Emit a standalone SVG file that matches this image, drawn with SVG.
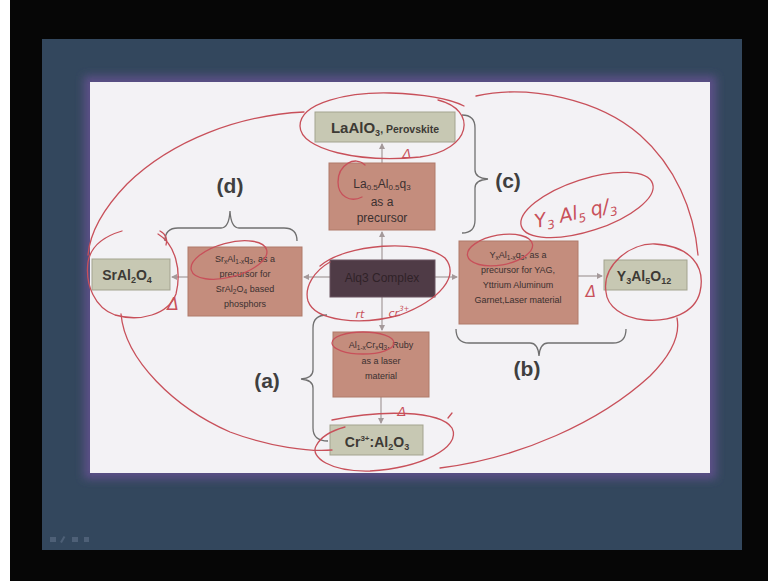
<svg xmlns="http://www.w3.org/2000/svg" width="768" height="581" viewBox="0 0 768 581">
<defs>
<style>
.box-k{fill:#c7c8b3;stroke:#a3a38f;stroke-width:1}
.box-r{fill:#c48d7d;stroke:#b07a6b;stroke-width:1}
.box-d{fill:#4f3b46;stroke:#6b5560;stroke-width:1}
.t{font-family:"Liberation Sans",Arial,sans-serif;fill:#3b3030;text-anchor:middle}
.tb{font-family:"Liberation Sans",Arial,sans-serif;font-weight:bold;fill:#3d3a35;text-anchor:middle}
.lbl{font-family:"Liberation Sans",Arial,sans-serif;font-weight:bold;font-size:21px;fill:#3f3f3f;text-anchor:middle}
.conn{stroke:#a4999a;stroke-width:1.2;fill:none;marker-end:url(#ah)}
.brace{stroke:#707070;stroke-width:1.3;fill:none}
.ink{stroke:#c8505a;stroke-width:1.3;fill:none;stroke-linecap:round;stroke-linejoin:round}
.inkt{font-family:"DejaVu Sans",sans-serif;font-style:italic;fill:#c8505a}
</style>
<marker id="ah" markerWidth="6" markerHeight="6" refX="5" refY="3" orient="auto" markerUnits="userSpaceOnUse"><path d="M0,0 L6,3 L0,6 z" fill="#a4999a"/></marker>
<filter id="glow" x="-10%" y="-10%" width="120%" height="120%"><feGaussianBlur stdDeviation="4"/></filter>
</defs>

<g id="background">
<rect x="0" y="0" width="768" height="581" fill="#060606"/>
<rect x="0" y="0" width="10" height="581" fill="#ffffff"/>
<rect x="42" y="39" width="700" height="511" fill="#33475d"/>
<rect x="84" y="76" width="632" height="403" fill="#5b4f87" filter="url(#glow)"/>
<rect x="90" y="82" width="620" height="391" fill="#f3f2f5"/>
<g fill="#8090a8" opacity="0.35">
<rect x="50" y="537" width="6" height="5"/>
<rect x="62" y="536" width="2" height="7" transform="rotate(30 63 539)"/>
<rect x="72" y="537" width="6" height="5"/>
<rect x="84" y="537" width="5" height="5"/>
</g>
</g>

<g id="connectors">
<line class="conn" x1="382" y1="260" x2="382" y2="232"/>
<line class="conn" x1="382" y1="163" x2="382" y2="144"/>
<line class="conn" x1="330" y1="277" x2="304" y2="277"/>
<line class="conn" x1="188" y1="277" x2="172" y2="277"/>
<line class="conn" x1="435" y1="277" x2="457" y2="277"/>
<line class="conn" x1="578" y1="276" x2="602" y2="276"/>
<line class="conn" x1="382" y1="297" x2="382" y2="330"/>
<line class="conn" x1="381" y1="397" x2="381" y2="423"/>
</g>

<g id="laalo3">
<rect class="box-k" x="315" y="112" width="140" height="30"/>
<text class="tb" x="385" y="133" font-size="15">LaAlO<tspan font-size="9" dy="3">3</tspan><tspan font-size="10.5" dy="-3">, Perovskite</tspan></text>
</g>

<g id="la-precursor">
<rect class="box-r" x="329" y="163" width="106" height="67"/>
<text class="t" x="382" y="188" font-size="12">La<tspan font-size="8" dy="2">0.5</tspan><tspan dy="-2">Al</tspan><tspan font-size="8" dy="2">0.5</tspan><tspan dy="-2">q</tspan><tspan font-size="8" dy="2">3</tspan></text>
<text class="t" x="382" y="206" font-size="12">as a</text>
<text class="t" x="382" y="222" font-size="12">precursor</text>
</g>

<g id="alq3">
<rect class="box-d" x="330" y="260" width="105" height="37"/>
<text class="t" x="382" y="282" font-size="12" fill="#2f2228" style="fill:#2f2228">Alq3 Complex</text>
</g>

<g id="sr-precursor">
<rect class="box-r" x="188" y="247" width="114" height="69"/>
<text class="t" x="245" y="262" font-size="9">Sr<tspan font-size="6.5" dy="2">x</tspan><tspan dy="-2">Al</tspan><tspan font-size="6.5" dy="2">1-x</tspan><tspan dy="-2">q</tspan><tspan font-size="6.5" dy="2">3</tspan><tspan dy="-2">, as a</tspan></text>
<text class="t" x="245" y="277" font-size="9">precursor for</text>
<text class="t" x="245" y="292" font-size="9">SrAl<tspan font-size="6.5" dy="2">2</tspan><tspan dy="-2">O</tspan><tspan font-size="6.5" dy="2">4</tspan><tspan dy="-2"> based</tspan></text>
<text class="t" x="245" y="307" font-size="9">phosphors</text>
</g>

<g id="sral2o4">
<rect class="box-k" x="92" y="259" width="78" height="31"/>
<text class="tb" x="127" y="280" font-size="14">SrAl<tspan font-size="9" dy="3">2</tspan><tspan dy="-3">O</tspan><tspan font-size="9" dy="3">4</tspan></text>
</g>

<g id="y-precursor">
<rect class="box-r" x="459" y="241" width="119" height="83"/>
<text class="t" x="518" y="258" font-size="9">Y<tspan font-size="6.5" dy="2">x</tspan><tspan dy="-2">Al</tspan><tspan font-size="6.5" dy="2">1-x</tspan><tspan dy="-2">q</tspan><tspan font-size="6.5" dy="2">3</tspan><tspan dy="-2">, as a</tspan></text>
<text class="t" x="518" y="273" font-size="9">precursor for YAG,</text>
<text class="t" x="518" y="288" font-size="9">Yttrium Aluminum</text>
<text class="t" x="518" y="303" font-size="9">Garnet,Laser material</text>
</g>

<g id="yag">
<rect class="box-k" x="604" y="260" width="83" height="30"/>
<text class="tb" x="644" y="281" font-size="14">Y<tspan font-size="9" dy="3">3</tspan><tspan dy="-3">Al</tspan><tspan font-size="9" dy="3">5</tspan><tspan dy="-3">O</tspan><tspan font-size="9" dy="3">12</tspan></text>
</g>

<g id="al-precursor">
<rect class="box-r" x="333" y="332" width="96" height="65"/>
<text class="t" x="381" y="348" font-size="9">Al<tspan font-size="6.5" dy="2">1-x</tspan><tspan dy="-2">Cr</tspan><tspan font-size="6.5" dy="2">x</tspan><tspan dy="-2">q</tspan><tspan font-size="6.5" dy="2">3</tspan><tspan dy="-2">, Ruby</tspan></text>
<text class="t" x="381" y="364" font-size="9">as a laser</text>
<text class="t" x="381" y="379" font-size="9">material</text>
</g>

<g id="ruby">
<rect class="box-k" x="330" y="425" width="93" height="30"/>
<text class="tb" x="377" y="447" font-size="14">Cr<tspan font-size="8" dy="-6">3+</tspan><tspan dy="6">:Al</tspan><tspan font-size="9" dy="3">2</tspan><tspan dy="-3">O</tspan><tspan font-size="9" dy="3">3</tspan></text>
</g>

<g id="braces">
<path class="brace" d="M462,115 Q475,115 475,128 L475,170 Q475,178 488,179 Q475,180 475,188 L475,220 Q475,233 462,233"/>
<text class="lbl" x="508" y="188">(c)</text>
<path class="brace" d="M165,241 Q165,228 178,228 L221,228 Q229,228 230,211 Q231,228 239,228 L284,228 Q297,228 297,241"/>
<text class="lbl" x="230" y="193">(d)</text>
<path class="brace" d="M327,315 Q313,315 313,328 L313,370 Q313,378 301,379 Q313,380 313,388 L313,428 Q313,441 328,441"/>
<text class="lbl" x="267" y="388">(a)</text>
<path class="brace" d="M456,329 Q456,343 469,343 L530,343 Q538,343 539,356 Q540,343 548,343 L613,343 Q626,343 626,329"/>
<text class="lbl" x="527" y="376">(b)</text>
</g>

<g id="ink">
<path class="ink" d="M438,100 C478,110 472,150 420,157 C360,163 300,150 300,126 C300,102 350,92 390,93 C420,94 448,98 464,106"/>
<path class="ink" d="M476,96 C530,84 600,100 640,135 C675,166 694,210 698,255"/>
<path class="ink" d="M304,112 C240,115 172,140 127,184 C102,210 90,232 88,255"/>
<path class="ink" d="M158,234 C175,244 182,270 176,294 C168,315 140,322 115,315 C95,308 85,285 88,262 C91,245 105,236 122,231"/>
<path class="ink" d="M160,231 C166,234 168,240 166,245"/>
<path class="ink" d="M121,314 C125,360 175,408 230,432 C270,447 310,452 332,450"/>
<path class="ink" d="M332,420 C380,410 440,410 452,428 C462,448 420,468 370,471 C330,472 310,457 316,446 C320,438 330,431 345,427"/>
<path class="ink" d="M448,418 L452,413"/>
<path class="ink" d="M440,468 C520,458 600,422 650,376 C674,352 680,333 677,318"/>
<path class="ink" d="M606,292 C602,265 630,243 655,244 C690,246 706,266 700,292 C695,313 670,322 645,320 C622,318 607,306 606,292"/>
<ellipse class="ink" cx="587" cy="205" rx="69" ry="26" transform="rotate(-18 587 205)"/>
<path class="ink" d="M320,266 C345,244 420,238 445,258 C460,276 440,300 400,315 C360,326 315,321 308,301 C304,287 314,271 330,262"/>
<path class="ink" d="M365,165 C355,155 338,165 338,182 C338,196 350,203 362,197"/>
<ellipse class="ink" cx="229" cy="260" rx="39" ry="17" transform="rotate(-15 229 260)"/>
<ellipse class="ink" cx="500" cy="250" rx="33" ry="15" transform="rotate(-10 500 250)"/>
<ellipse class="ink" cx="363" cy="343" rx="31" ry="11"/>
<text class="inkt" x="407" y="158" font-size="13" text-anchor="middle">Δ</text>
<text class="inkt" x="591" y="297" font-size="15" text-anchor="middle">Δ</text>
<text class="inkt" x="402" y="416" font-size="13" text-anchor="middle">Δ</text>
<text class="inkt" x="173" y="310" font-size="17" text-anchor="middle">Δ</text>
<text class="inkt" x="360" y="318" font-size="11" text-anchor="middle">rt</text>
<text class="inkt" x="399" y="317" font-size="11" text-anchor="middle">cr<tspan font-size="7" dy="-6">3+</tspan></text>
<text class="inkt" x="536" y="228" font-size="19" transform="rotate(-12 536 228)">Y<tspan font-size="12" dy="4">3</tspan><tspan dy="-4"> Al</tspan><tspan font-size="12" dy="4">5</tspan><tspan dy="-4"> q/</tspan><tspan font-size="12" dy="4">3</tspan></text>
</g>
</svg>
